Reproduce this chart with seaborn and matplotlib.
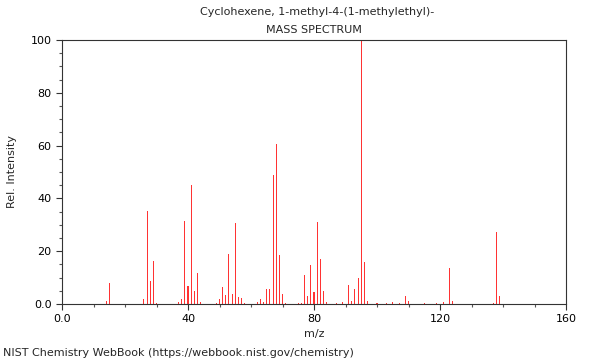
import matplotlib
matplotlib.use("Agg")
import matplotlib.pyplot as plt
import seaborn as sns
import numpy as np
import pandas as pd
from matplotlib.ticker import MultipleLocator, FixedLocator, FixedFormatter

title_line1 = "Cyclohexene, 1-methyl-4-(1-methylethyl)-"
title_line2 = "MASS SPECTRUM"
footer = "NIST Chemistry WebBook (https://webbook.nist.gov/chemistry)"

mz = [14, 15, 26, 27, 28, 29, 30, 37, 38, 39, 40, 41, 42, 43, 44,
      49, 50, 51, 52, 53, 54, 55, 56, 57, 58,
      62, 63, 64, 65, 66, 67, 68, 69, 70, 71,
      75, 76, 77, 78, 79, 80, 81, 82, 83, 84,
      87, 89, 91, 92, 93, 94, 95, 96, 97, 100,
      103, 105, 107, 109, 110, 115, 119, 121, 123, 124, 137, 138, 139]
intensity = [1.0, 8.0, 1.9, 35.4, 8.9, 16.1, 0.5, 0.6, 1.9, 31.3, 7.0, 45.1, 5.0, 11.9, 0.7,
             0.4, 1.9, 6.4, 3.4, 19.0, 3.8, 30.7, 2.8, 2.4, 0.5,
             0.6, 1.8, 0.6, 5.8, 5.8, 48.7, 60.6, 18.6, 3.8, 0.5,
             0.5, 0.5, 11.0, 2.9, 14.9, 4.5, 31.0, 16.9, 5.0, 0.6,
             0.3, 0.6, 7.3, 1.3, 5.7, 10.0, 100.0, 16.0, 1.3, 0.3,
             0.5, 0.7, 0.5, 3.1, 1.3, 0.3, 0.3, 0.6, 13.8, 1.3, 0.3, 27.3, 2.9]

x_major = [0, 40, 80, 120, 160]
x_major_labels = ["0.0", "40", "80", "120", "160"]
y_major = [0, 20, 40, 60, 80, 100]
y_major_labels = ["0.0", "20", "40", "60", "80", "100"]

df = pd.DataFrame({"mz": mz, "intensity": intensity})

sns.set_style("ticks")
plt.rcParams["font.family"] = ["DejaVu Sans"]

fig = plt.figure(figsize=(6, 3.6), dpi=100)
ax = fig.add_axes([62/600, 1-304/360, 504/600, 264/360])

sns.histplot(data=df, x="mz", weights="intensity", discrete=True, shrink=0.33,
             color="#ff3333", edgecolor=None, linewidth=0, alpha=1.0, ax=ax)

ax.set_xlim(0, 160)
ax.set_ylim(0, 100)
ax.xaxis.set_major_locator(FixedLocator(x_major))
ax.xaxis.set_major_formatter(FixedFormatter(x_major_labels))
ax.yaxis.set_major_locator(FixedLocator(y_major))
ax.yaxis.set_major_formatter(FixedFormatter(y_major_labels))
ax.xaxis.set_minor_locator(MultipleLocator(10))
ax.yaxis.set_minor_locator(MultipleLocator(5))
ax.tick_params(which="major", direction="out", length=4, width=0.8, labelsize=8, colors="#333333", labelcolor="black")
ax.tick_params(which="minor", direction="out", length=2, width=0.8, colors="#555555")
for s in ax.spines.values():
    s.set_visible(True)
    s.set_linewidth(0.8)
    s.set_color("#333333")

ax.set_xlabel("m/z", fontsize=8, labelpad=3)
ax.set_ylabel("Rel. Intensity", fontsize=8, labelpad=10)

fig.text(0.5*(62+566)/600 + 3/600, 1-12/360, title_line1, ha="center", va="center", fontsize=8)
fig.text(0.5*(62+566)/600, 1-30/360, title_line2, ha="center", va="center", fontsize=8)
fig.text(3/600, 1-353/360, footer, ha="left", va="center", fontsize=8)

fig.savefig("out.png", dpi=100)
